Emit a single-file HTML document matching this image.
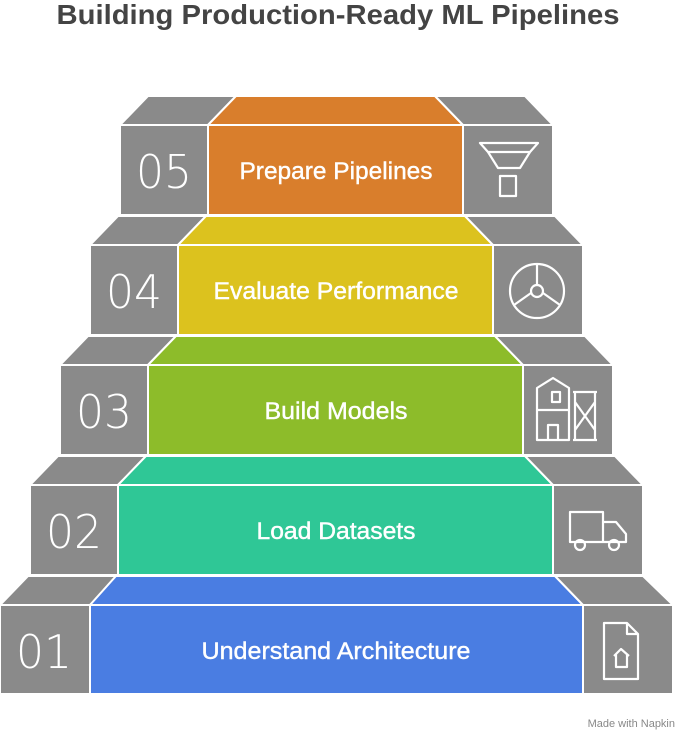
<!DOCTYPE html>
<html><head><meta charset="utf-8"><style>
html,body{margin:0;padding:0;background:#fff;width:677px;height:734px;overflow:hidden}
svg{display:block}
.t{font-family:"Liberation Sans",sans-serif}
</style></head><body>
<svg width="677" height="734" viewBox="0 0 677 734" xmlns="http://www.w3.org/2000/svg">
<text x="338" y="24" text-anchor="middle" class="t" font-size="28" font-weight="bold" fill="#444" textLength="563" lengthAdjust="spacingAndGlyphs">Building Production-Ready ML Pipelines</text>
<g stroke="#fff" stroke-width="2" stroke-linejoin="round">
<polygon points="148,96 236,96 208,125 120,125" fill="#8a8a8a"/>
<polygon points="236,96 435,96 463,125 208,125" fill="#d97e2c"/>
<polygon points="435,96 525,96 553,125 463,125" fill="#8a8a8a"/>
<rect x="120" y="125" width="88" height="90" fill="#8a8a8a"/>
<rect x="208" y="125" width="255" height="90" fill="#d97e2c"/>
<rect x="463" y="125" width="90" height="90" fill="#8a8a8a"/>
<polygon points="118,216 206,216 178,245 90,245" fill="#8a8a8a"/>
<polygon points="206,216 465,216 493,245 178,245" fill="#dcc21e"/>
<polygon points="465,216 555,216 583,245 493,245" fill="#8a8a8a"/>
<rect x="90" y="245" width="88" height="90" fill="#8a8a8a"/>
<rect x="178" y="245" width="315" height="90" fill="#dcc21e"/>
<rect x="493" y="245" width="90" height="90" fill="#8a8a8a"/>
<polygon points="88,336 176,336 148,365 60,365" fill="#8a8a8a"/>
<polygon points="176,336 495,336 523,365 148,365" fill="#8dbc2a"/>
<polygon points="495,336 585,336 613,365 523,365" fill="#8a8a8a"/>
<rect x="60" y="365" width="88" height="90" fill="#8a8a8a"/>
<rect x="148" y="365" width="375" height="90" fill="#8dbc2a"/>
<rect x="523" y="365" width="90" height="90" fill="#8a8a8a"/>
<polygon points="58,456 146,456 118,485 30,485" fill="#8a8a8a"/>
<polygon points="146,456 525,456 553,485 118,485" fill="#2fc796"/>
<polygon points="525,456 615,456 643,485 553,485" fill="#8a8a8a"/>
<rect x="30" y="485" width="88" height="90" fill="#8a8a8a"/>
<rect x="118" y="485" width="435" height="90" fill="#2fc796"/>
<rect x="553" y="485" width="90" height="90" fill="#8a8a8a"/>
<polygon points="28,576 116,576 90,605 0,605" fill="#8a8a8a"/>
<polygon points="116,576 555,576 583,605 90,605" fill="#4a7de2"/>
<polygon points="555,576 643,576 673,605 583,605" fill="#8a8a8a"/>
<rect x="0" y="605" width="90" height="89" fill="#8a8a8a"/>
<rect x="90" y="605" width="493" height="89" fill="#4a7de2"/>
<rect x="583" y="605" width="90" height="89" fill="#8a8a8a"/>
</g>
<g class="t" fill="#fff" font-size="46" text-anchor="middle" style="font-family:'DejaVu Sans',sans-serif;font-weight:200">
<text x="164" y="188" textLength="56" lengthAdjust="spacingAndGlyphs">05</text>
<text x="134" y="308" textLength="56" lengthAdjust="spacingAndGlyphs">04</text>
<text x="104" y="428" textLength="56" lengthAdjust="spacingAndGlyphs">03</text>
<text x="74" y="548" textLength="56" lengthAdjust="spacingAndGlyphs">02</text>
<text x="44" y="668" textLength="56" lengthAdjust="spacingAndGlyphs">01</text>
</g>
<g class="t" fill="#fff" font-size="24" text-anchor="middle" stroke="#fff" stroke-width="0.4">
<text x="336" y="179" textLength="193" lengthAdjust="spacingAndGlyphs">Prepare Pipelines</text>
<text x="336" y="299" textLength="245" lengthAdjust="spacingAndGlyphs">Evaluate Performance</text>
<text x="336" y="419" textLength="143" lengthAdjust="spacingAndGlyphs">Build Models</text>
<text x="336" y="539" textLength="159" lengthAdjust="spacingAndGlyphs">Load Datasets</text>
<text x="336" y="659" textLength="269" lengthAdjust="spacingAndGlyphs">Understand Architecture</text>
</g>
<g fill="none" stroke="#fff" stroke-width="2.2" stroke-linejoin="round">
<path d="M480,143 H538 L530,152 H488 Z M488,152 L498,168 H520 L530,152"/>
<rect x="500" y="176" width="16" height="20"/>
<circle cx="537" cy="291" r="27"/><circle cx="537" cy="291" r="6"/>
<path d="M537,264 V285 M531,293 L514,305 M543,293 L560,305"/>
<path d="M537,388 L553,378 L569,388 V440 H537 Z M537,410 H569 M548,440 V425 H558 V440 M552,392 H560 V402 H552 Z"/>
<path d="M573,392 H597 M573,440 H597 M575,392 V440 M595,392 V440 M575,402 L595,430 M595,402 L575,430"/>
<path d="M570,512 H603 V542 H570 Z M603,522 H616 L626,534 V542 H603"/>
<circle cx="580" cy="545" r="5"/><circle cx="614" cy="545" r="5"/>
<path d="M604,623 H627 L638,634 V679 H604 Z M627,623 V634 H638"/>
<path d="M614,656 L621,649 L629,656 M616,654 V667 H627 V654"/>
</g>
<text x="675" y="727" text-anchor="end" class="t" font-size="11" fill="#888">Made with Napkin</text>
</svg>
</body></html>
